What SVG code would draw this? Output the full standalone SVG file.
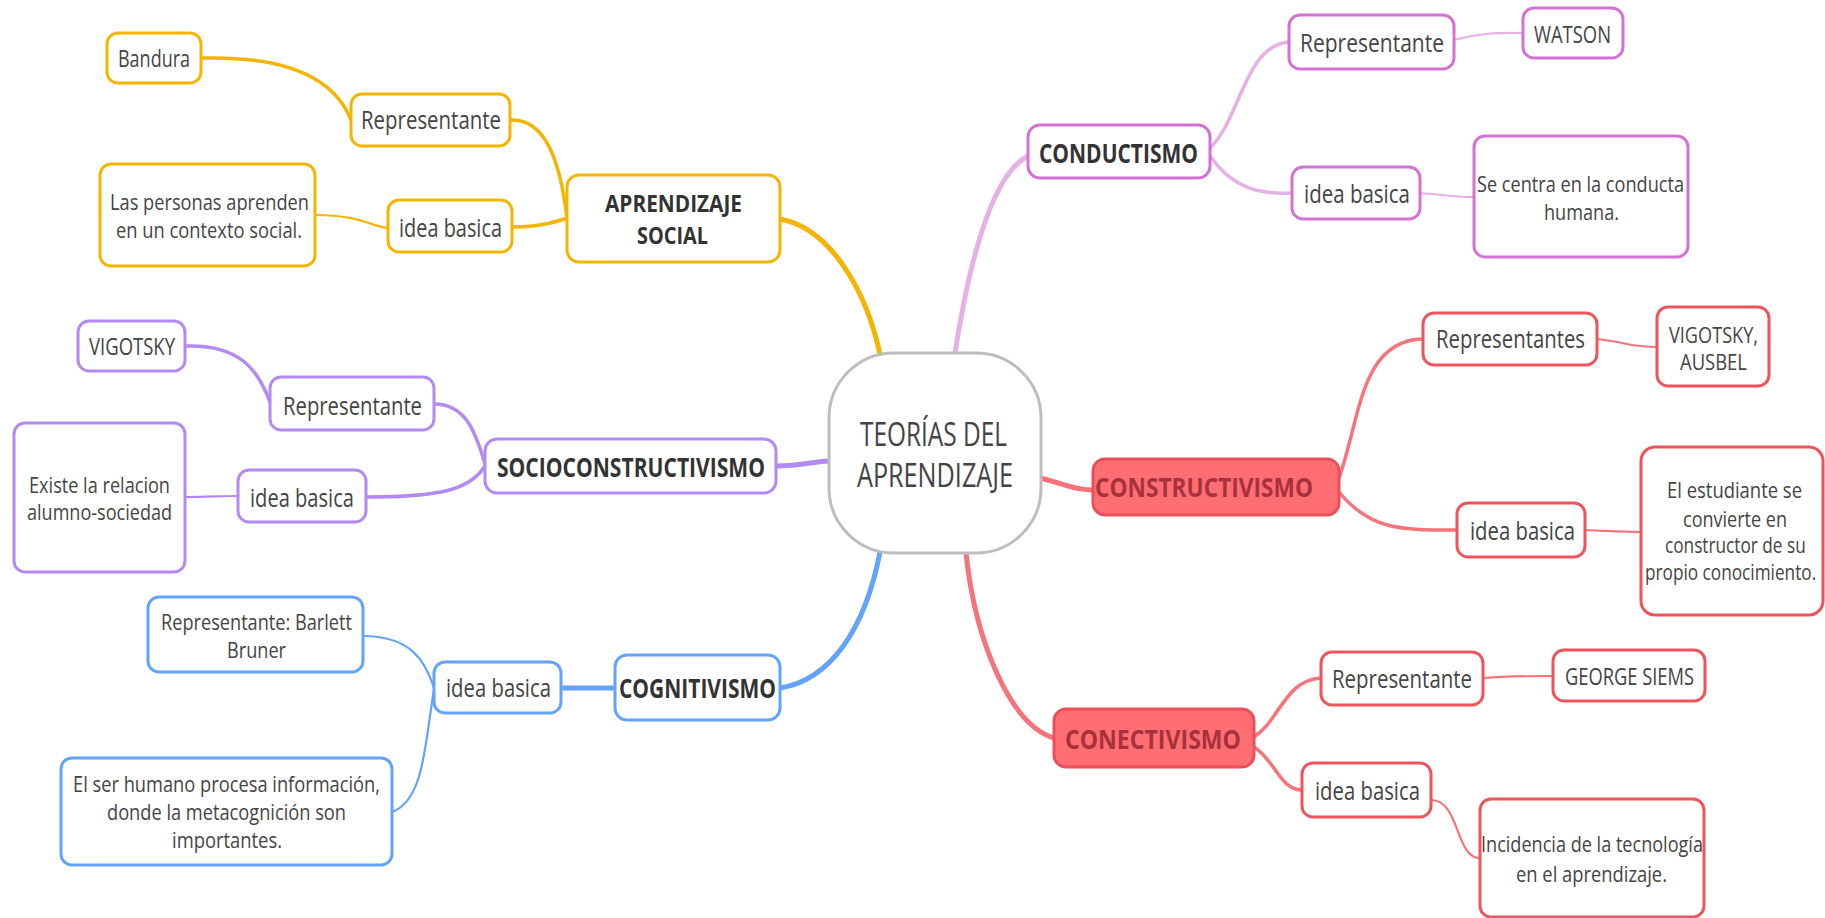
<svg xmlns="http://www.w3.org/2000/svg" width="1825" height="918" viewBox="0 0 1825 918">
<style>
text{font-family:"Open Sans","Noto Sans","DejaVu Sans",sans-serif;fill:#444}
.t{font-size:26px}
.s{font-size:24px}
.d{font-size:21px}
.m{font-size:27px;font-weight:700;fill:#333}
.m2{font-size:24px;font-weight:700;fill:#333}
.c{font-size:33px;fill:#444}
rect{fill:#fff;stroke-width:3}
.y rect{stroke:#f5b400}
.p rect{stroke:#b48af2}
.b rect{stroke:#62a3fb}
.k rect{stroke:#d570d5}
.r rect{stroke:#ef545c}
.r rect.f{fill:#ff6e72;stroke:#ec4f57}
.r text.f{fill:#a8323c}
path{fill:none;stroke-linecap:round}
.cy{stroke:#f5b400}
.cp{stroke:#b48af2}
.cb{stroke:#62a3fb}
.ck{stroke:#e6b0e6}
.cr{stroke:#f7737a}
.w5{stroke-width:5}
.w3{stroke-width:3.5}
.w2{stroke-width:2.2}
</style>
<g id="connectors">
<path class="cy w5" d="M780 219 C830 228 866 290 880 354"/>
<path class="cy w3" d="M203 58 C290 56 335 80 351 120"/>
<path class="cy w3" d="M510 120 C545 118 560 160 567 218"/>
<path class="cy w3" d="M512 227 C540 227 555 222 567 218"/>
<path class="cy w2" d="M315 215 C360 215 370 226 388 228"/>
<path class="cp w5" d="M776 466 C800 466 810 462 829 461"/>
<path class="cp w3" d="M185 346 C240 344 258 370 270 402"/>
<path class="cp w3" d="M434 404 C465 404 475 430 485 464"/>
<path class="cp w3" d="M366 497 C440 497 470 490 485 466"/>
<path class="cp w2" d="M185 497 C210 497 220 496 238 496"/>
<path class="cb w5" d="M780 688 C830 680 865 630 880 552"/>
<path class="cb w5" d="M561 688 L615 688"/>
<path class="cb w2" d="M363 636 C410 636 425 660 434 688"/>
<path class="cb w2" d="M392 812 C425 800 425 740 434 690"/>
<path class="ck w5" d="M955 353 C968 270 990 175 1028 156"/>
<path class="ck w3" d="M1210 148 C1240 120 1245 45 1289 42"/>
<path class="ck w3" d="M1210 156 C1230 185 1255 195 1292 193"/>
<path class="ck w2" d="M1454 40 C1485 32 1500 33 1523 33"/>
<path class="ck w2" d="M1420 193 C1445 195 1455 197 1474 197"/>
<path class="cr w5" d="M1040 478 C1065 484 1075 490 1093 490"/>
<path class="cr w3" d="M1339 478 C1360 420 1360 340 1423 339"/>
<path class="cr w3" d="M1339 492 C1370 530 1400 530 1457 530"/>
<path class="cr w2" d="M1597 339 C1625 342 1630 347 1657 347"/>
<path class="cr w2" d="M1585 530 C1610 531 1620 532 1641 532"/>
<path class="cr w5" d="M966 553 C975 640 1010 725 1054 738"/>
<path class="cr w3" d="M1254 737 C1280 720 1285 680 1321 678"/>
<path class="cr w3" d="M1254 747 C1275 760 1280 790 1302 790"/>
<path class="cr w2" d="M1483 678 C1510 676 1525 676 1553 676"/>
<path class="cr w2" d="M1431 800 C1460 800 1455 858 1480 858"/>
</g>
<g id="center">
<rect x="829" y="353" width="212" height="200" rx="65" style="stroke:#bdbdbd"/>
<text class="c" x="860" y="446" textLength="147" lengthAdjust="spacingAndGlyphs">TEORÍAS DEL</text>
<text class="c" x="857" y="487" textLength="156" lengthAdjust="spacingAndGlyphs">APRENDIZAJE</text>
</g>
<g class="y">
<g id="aprendizaje-social"><rect x="567" y="175" width="213" height="87" rx="12"/>
<text class="m2" x="605" y="212" textLength="137" lengthAdjust="spacingAndGlyphs">APRENDIZAJE</text>
<text class="m2" x="637" y="244" textLength="71" lengthAdjust="spacingAndGlyphs">SOCIAL</text></g>
<g id="as-representante"><rect x="351" y="94" width="159" height="52" rx="11"/>
<text class="t" x="361" y="129" textLength="140" lengthAdjust="spacingAndGlyphs">Representante</text></g>
<g id="bandura"><rect x="107" y="33" width="94" height="50" rx="11"/>
<text class="s" x="118" y="67" textLength="72" lengthAdjust="spacingAndGlyphs">Bandura</text></g>
<g id="as-idea"><rect x="388" y="200" width="124" height="52" rx="11"/>
<text class="t" x="399" y="237" textLength="103" lengthAdjust="spacingAndGlyphs">idea basica</text></g>
<g id="as-desc"><rect x="100" y="164" width="215" height="102" rx="11"/>
<text class="d" x="110" y="210" textLength="199" lengthAdjust="spacingAndGlyphs">Las personas aprenden</text>
<text class="d" x="116" y="238" textLength="186" lengthAdjust="spacingAndGlyphs">en un contexto social.</text></g>
</g>
<g class="p">
<g id="socioconstructivismo"><rect x="485" y="439" width="291" height="54" rx="12"/>
<text class="m" x="497" y="477" textLength="268" lengthAdjust="spacingAndGlyphs">SOCIOCONSTRUCTIVISMO</text></g>
<g id="sc-representante"><rect x="270" y="377" width="164" height="53" rx="11"/>
<text class="t" x="283" y="415" textLength="139" lengthAdjust="spacingAndGlyphs">Representante</text></g>
<g id="sc-vigotsky"><rect x="78" y="321" width="107" height="50" rx="11"/>
<text class="s" x="89" y="355" textLength="86" lengthAdjust="spacingAndGlyphs">VIGOTSKY</text></g>
<g id="sc-idea"><rect x="238" y="470" width="128" height="52" rx="11"/>
<text class="t" x="250" y="507" textLength="104" lengthAdjust="spacingAndGlyphs">idea basica</text></g>
<g id="sc-desc"><rect x="14" y="423" width="171" height="149" rx="11"/>
<text class="d" x="29" y="493" textLength="141" lengthAdjust="spacingAndGlyphs">Existe la relacion</text>
<text class="d" x="27" y="520" textLength="145" lengthAdjust="spacingAndGlyphs">alumno-sociedad</text></g>
</g>
<g class="b">
<g id="cognitivismo"><rect x="615" y="655" width="165" height="65" rx="12"/>
<text class="m" x="619" y="698" textLength="157" lengthAdjust="spacingAndGlyphs">COGNITIVISMO</text></g>
<g id="cg-idea"><rect x="434" y="662" width="127" height="51" rx="11"/>
<text class="t" x="446" y="697" textLength="105" lengthAdjust="spacingAndGlyphs">idea basica</text></g>
<g id="cg-representante"><rect x="148" y="597" width="215" height="75" rx="11"/>
<text class="d" x="161" y="630" textLength="191" lengthAdjust="spacingAndGlyphs">Representante: Barlett</text>
<text class="d" x="227" y="658" textLength="59" lengthAdjust="spacingAndGlyphs">Bruner</text></g>
<g id="cg-desc"><rect x="61" y="758" width="331" height="107" rx="11"/>
<text class="d" x="73" y="792" textLength="307" lengthAdjust="spacingAndGlyphs">El ser humano procesa información,</text>
<text class="d" x="107" y="820" textLength="239" lengthAdjust="spacingAndGlyphs">donde la metacognición son</text>
<text class="d" x="172" y="848" textLength="110" lengthAdjust="spacingAndGlyphs">importantes.</text></g>
</g>
<g class="k">
<g id="conductismo"><rect x="1028" y="125" width="182" height="53" rx="12"/>
<text class="m" x="1039" y="163" textLength="159" lengthAdjust="spacingAndGlyphs">CONDUCTISMO</text></g>
<g id="cd-representante"><rect x="1289" y="15" width="165" height="54" rx="11"/>
<text class="t" x="1300" y="52" textLength="144" lengthAdjust="spacingAndGlyphs">Representante</text></g>
<g id="watson"><rect x="1523" y="8" width="100" height="50" rx="11"/>
<text class="s" x="1534" y="43" textLength="77" lengthAdjust="spacingAndGlyphs">WATSON</text></g>
<g id="cd-idea"><rect x="1292" y="167" width="128" height="52" rx="11"/>
<text class="t" x="1304" y="203" textLength="106" lengthAdjust="spacingAndGlyphs">idea basica</text></g>
<g id="cd-desc"><rect x="1474" y="136" width="214" height="121" rx="11"/>
<text class="d" x="1477" y="192" textLength="207" lengthAdjust="spacingAndGlyphs">Se centra en la conducta</text>
<text class="d" x="1544" y="220" textLength="75" lengthAdjust="spacingAndGlyphs">humana.</text></g>
</g>
<g class="r">
<g id="constructivismo"><rect class="f" x="1093" y="459" width="246" height="56" rx="12"/>
<text class="m f" x="1095" y="497" textLength="218" lengthAdjust="spacingAndGlyphs">CONSTRUCTIVISMO</text></g>
<g id="ct-representantes"><rect x="1423" y="313" width="174" height="52" rx="11"/>
<text class="t" x="1436" y="348" textLength="149" lengthAdjust="spacingAndGlyphs">Representantes</text></g>
<g id="ct-vigotsky"><rect x="1657" y="307" width="112" height="79" rx="11"/>
<text class="d" x="1669" y="343" textLength="89" lengthAdjust="spacingAndGlyphs">VIGOTSKY,</text>
<text class="d" x="1680" y="370" textLength="67" lengthAdjust="spacingAndGlyphs">AUSBEL</text></g>
<g id="ct-idea"><rect x="1457" y="503" width="128" height="54" rx="11"/>
<text class="t" x="1470" y="540" textLength="105" lengthAdjust="spacingAndGlyphs">idea basica</text></g>
<g id="ct-desc"><rect x="1641" y="447" width="182" height="168" rx="14"/>
<text class="d" x="1667" y="498" textLength="135" lengthAdjust="spacingAndGlyphs">El estudiante se</text>
<text class="d" x="1683" y="527" textLength="104" lengthAdjust="spacingAndGlyphs">convierte en</text>
<text class="d" transform="matrix(0.82 0 0 1 1665 553)" x="0" y="0">constructor de su</text>
<text class="d" transform="matrix(0.82 0 0 1 1645 580)" x="0" y="0">propio conocimiento.</text></g>
<g id="conectivismo"><rect class="f" x="1054" y="709" width="200" height="58" rx="12"/>
<text class="m f" x="1065" y="749" textLength="176" lengthAdjust="spacingAndGlyphs">CONECTIVISMO</text></g>
<g id="cn-representante"><rect x="1321" y="652" width="162" height="53" rx="11"/>
<text class="t" x="1332" y="688" textLength="140" lengthAdjust="spacingAndGlyphs">Representante</text></g>
<g id="george-siems"><rect x="1553" y="650" width="152" height="51" rx="11"/>
<text class="s" x="1565" y="685" textLength="129" lengthAdjust="spacingAndGlyphs">GEORGE SIEMS</text></g>
<g id="cn-idea"><rect x="1302" y="763" width="129" height="54" rx="11"/>
<text class="t" x="1315" y="800" textLength="105" lengthAdjust="spacingAndGlyphs">idea basica</text></g>
<g id="cn-desc"><rect x="1480" y="799" width="224" height="118" rx="11"/>
<text class="d" x="1481" y="852" textLength="222" lengthAdjust="spacingAndGlyphs">Incidencia de la tecnología</text>
<text class="d" x="1516" y="882" textLength="151" lengthAdjust="spacingAndGlyphs">en el aprendizaje.</text></g>
</g>
</svg>
